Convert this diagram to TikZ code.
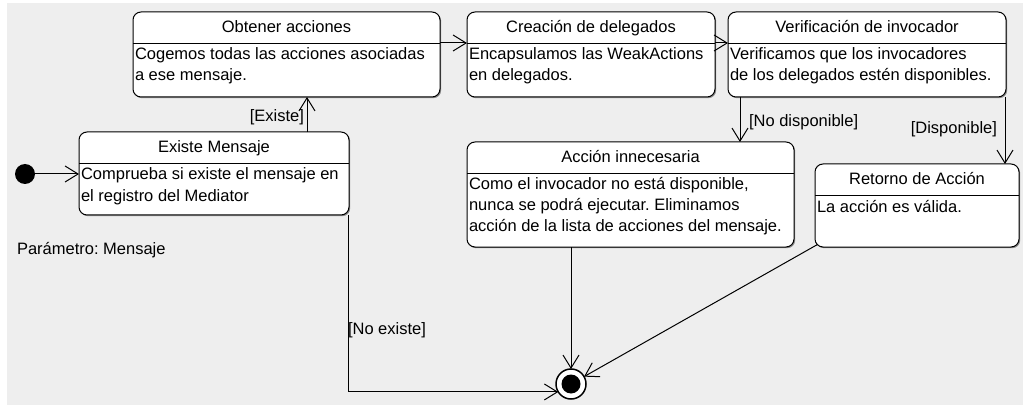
\documentclass[tikz,border=0pt]{standalone}
\usepackage{fontspec}
\setmainfont{Liberation Sans}
\usetikzlibrary{arrows.meta,shadows,calc}
\definecolor{bggray}{HTML}{EEEEEE}
\frenchspacing
\newcommand{\umlstate}[7]{%
  \node[statebox, minimum width=#4pt, minimum height=#5pt] (#1) at (#2,#3) {};
  \draw[line width=1pt] ([yshift=-32pt]#1.north west) -- ([yshift=-32pt]#1.north east);
  \node[titletxt] (#1-t) at ([yshift=-21pt]#1.north) {#6};
  \node[bodytxt] (#1-b) at ([xshift=2pt,yshift=-33.3pt]#1.north west) {\strut #7};
}
\begin{document}
\begin{tikzpicture}[x=1pt,y=-1pt,
  txt/.style={font=\fontsize{16.5}{21}\selectfont\frenchspacing, inner sep=0pt, outer sep=0pt, text=black},
  titletxt/.style={txt, anchor=base},
  bodytxt/.style={txt, anchor=north west, align=left},
  statebox/.style={draw, line width=1pt, fill=white, rounded corners=8pt, anchor=north west,
    inner sep=0pt, outer sep=0pt,
    drop shadow={shadow xshift=1.2pt, shadow yshift=-1.2pt, fill=black!45, opacity=1}},
  arr/.style={line width=1pt, -{Straight Barb[length=13pt,width=16pt]}}
]
\useasboundingbox (0,0) rectangle (1025,406);
\fill[white] (0,0) rectangle (1025,406);
\fill[bggray] (7,3) rectangle (1023,405);

\umlstate{obtener}{133}{12}{307}{85}{Obtener acciones}{Cogemos todas las acciones asociadas\\a ese mensaje.}
\umlstate{creacion}{467}{12}{248}{85}{Creación de delegados}{Encapsulamos las WeakActions\\en delegados.}
\umlstate{verif}{728}{12}{278}{85}{Verificación de invocador}{Verificamos que los invocadores\\de los delegados estén disponibles.}
\umlstate{existe}{79}{132}{270}{83}{Existe Mensaje}{Comprueba si existe el mensaje en\\el registro del Mediator}
\umlstate{accion}{467}{142}{327}{105}{Acción innecesaria}{Como el invocador no está disponible,\\nunca se podrá ejecutar. Eliminamos\\acción de la lista de acciones del mensaje.}
\umlstate{retorno}{815}{164}{204}{83}{Retorno de Acción}{La acción es válida.}

\node[circle, fill=black, minimum size=20pt, inner sep=0pt, outer sep=0pt] (init) at (25,174) {};
\node[circle, draw, line width=1.5pt, fill=white, minimum size=30pt, inner sep=0pt, outer sep=0pt] (final) at (571,384) {};
\node[circle, fill=black, minimum size=19pt, inner sep=0pt] (finalin) at (final) {};

\node[txt, anchor=base west] (param) at (17,254) {Parámetro: Mensaje};

\coordinate (cx1) at (307,0);
\coordinate (cy1) at (0,43);
\coordinate (cx2) at (740,0);
\coordinate (cx3) at (1005,0);
\coordinate (cx4) at (348,0);

\draw[arr] (init) -- (init -| existe.west);
\draw[arr] (existe.north -| cx1) -- (obtener.south -| cx1);
\draw[arr] (obtener.east |- cy1) -- (creacion.west |- cy1);
\draw[arr] (creacion.east |- cy1) -- (verif.west |- cy1);
\draw[arr] (verif.south -| cx2) -- (accion.north -| cx2);
\draw[arr] (verif.south -| cx3) -- (retorno.north -| cx3);
\draw[arr] (existe.south -| cx4) |- (final.212);
\draw[arr] (accion.south -| final) -- (final);
\draw[arr] ([xshift=2.5pt,yshift=2.5pt]retorno.south west) -- (final);

\node[txt, anchor=base east] (lexiste) at (304,122) {[Existe]};
\node[txt, anchor=base west] (lnodisp) at (749,127) {[No disponible]};
\node[txt, anchor=base east] (ldisp) at (997,134) {[Disponible]};
\node[txt, anchor=base west] (lnoexiste) at (348,334) {[No existe]};
\end{tikzpicture}
\end{document}
